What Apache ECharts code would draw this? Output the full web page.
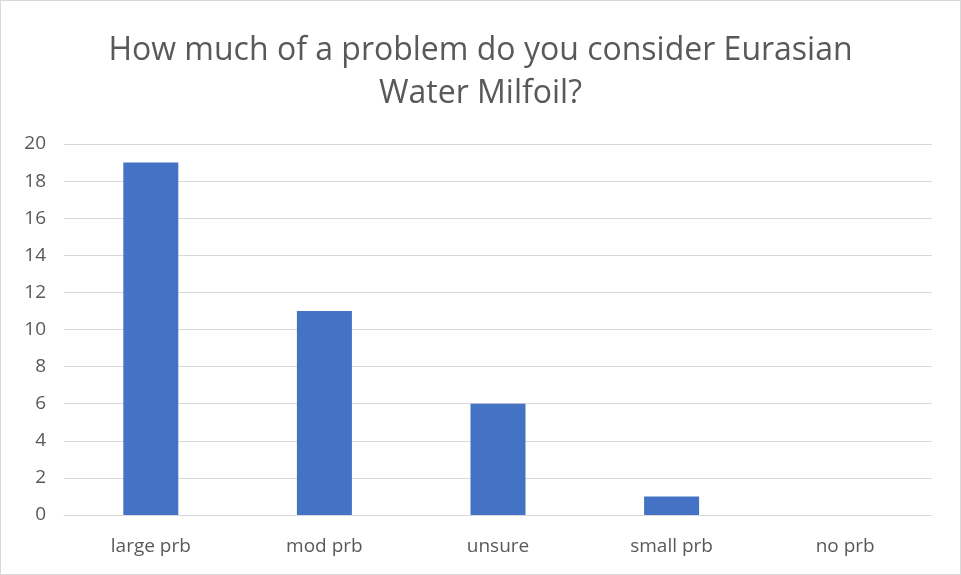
<!DOCTYPE html>
<html lang="en">
<head>
    <meta charset="UTF-8">
    <title>Eurasian Water Milfoil</title>
    <script type="text/javascript" src="https://cdn.jsdelivr.net/npm/echarts@6/dist/echarts.min.js"></script>
    <style>
        html, body { margin: 0; padding: 0; background: #fff; }
        #main { width: 959px; height: 573px; border: 1px solid #d9d9d9; }
    </style>
</head>
<body>
<div id="main"></div>

<script type="text/javascript">
    var categories = ['large prb', 'mod prb', 'unsure', 'small prb', 'no prb'];
    var counts = [19, 11, 6, 1, 0];
    var yTicks = [0, 2, 4, 6, 8, 10, 12, 14, 16, 18, 20];
    var titleLines = ['How much of a problem do you consider Eurasian', 'Water Milfoil?'];

    var titleStyle = {
        fontSize: 32,
        fontWeight: 'normal',
        color: '#595959',
        fontFamily: 'Open Sans'
    };

    var myChart = echarts.init(document.getElementById('main'));
    myChart.setOption({
        animation: false,
        textStyle: { fontFamily: 'Open Sans' },
        title: [
            { text: titleLines[0], left: 'center', top: 29, textStyle: titleStyle },
            { text: titleLines[1], left: 'center', top: 72, textStyle: titleStyle }
        ],
        grid: { left: 63, right: 28, top: 143, bottom: 59 },
        xAxis: {
            type: 'category',
            data: categories,
            axisTick: { show: false },
            axisLine: { lineStyle: { color: '#d9d9d9' } },
            axisLabel: { color: '#595959', fontSize: 19, margin: 22 }
        },
        yAxis: {
            type: 'value',
            min: yTicks[0],
            max: yTicks[yTicks.length - 1],
            interval: 2,
            axisLabel: { color: '#595959', fontSize: 19, margin: 18 },
            splitLine: { lineStyle: { color: '#d9d9d9' } }
        },
        series: [{
            type: 'bar',
            data: counts,
            barWidth: 55,
            itemStyle: { color: '#4472C4' }
        }]
    });
</script>
</body>
</html>
